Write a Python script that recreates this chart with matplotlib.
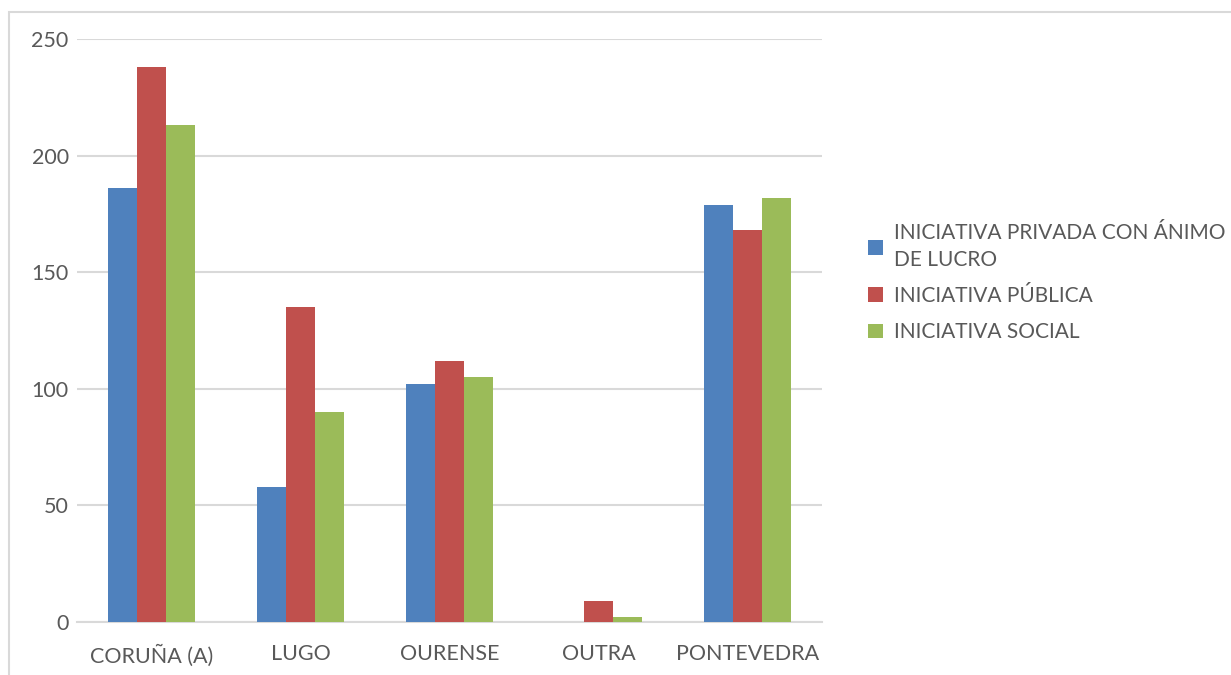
import matplotlib.pyplot as plt
import matplotlib.patches as mpatches
import numpy as np

plt.rcParams['font.family'] = ['Lato', 'DejaVu Sans']

# datos
categorias = ['CORUÑA (A)', 'LUGO', 'OURENSE', 'OUTRA', 'PONTEVEDRA']
privada = [186, 58, 102, 0, 179]
publica = [238, 135, 112, 9, 168]
social = [213, 90, 105, 2, 182]
series = ['INICIATIVA PRIVADA CON ÁNIMO\nDE LUCRO', 'INICIATIVA PÚBLICA', 'INICIATIVA SOCIAL']
colores = ['#4f81bd', '#c0504d', '#9bbb59']

fig = plt.figure(figsize=(12.31, 6.75), dpi=100)
ax = fig.add_axes([77 / 1231, 53 / 675, 745 / 1231, 583 / 675])

# marco exterior
fig.patches.append(mpatches.Rectangle((9 / 1231, -0.05), 1.2, (675 - 12) / 675 + 0.05,
                                      transform=fig.transFigure, fill=False,
                                      edgecolor='#d9d9d9', linewidth=1.5))

x = np.arange(len(categorias))
w = 0.195
for i, (vals, c, lab) in enumerate(zip([privada, publica, social], colores, series)):
    ax.bar(x + (i - 1) * w, vals, w, color=c, label=lab, zorder=3)

ax.set_xlim(-0.5, len(categorias) - 0.5)
ax.set_ylim(0, 250)
ax.set_yticks([0, 50, 100, 150, 200, 250])
ax.set_xticks(x)
ax.set_xticklabels(categorias)
ax.yaxis.grid(True, color='#d9d9d9', linewidth=1.5, zorder=0)
ax.set_axisbelow(True)
for s in ['top', 'right', 'left']:
    ax.spines[s].set_visible(False)
ax.spines['bottom'].set_color('#d9d9d9')
ax.spines['bottom'].set_linewidth(1.5)
ax.tick_params(length=0, labelsize=15.5, colors='#595959')
ax.tick_params(axis='y', pad=6)
ax.tick_params(axis='x', pad=16)

leg = fig.legend(loc='upper left', bbox_to_anchor=(860 / 1231, (675 - 215) / 675),
                 frameon=False, fontsize=15, handlelength=0.7, handleheight=0.7,
                 handletextpad=0.55, labelspacing=0.78, borderaxespad=0)
for t in leg.get_texts():
    t.set_color('#595959')
    t.set_linespacing(1.4)

plt.savefig('out.png', dpi=100)
